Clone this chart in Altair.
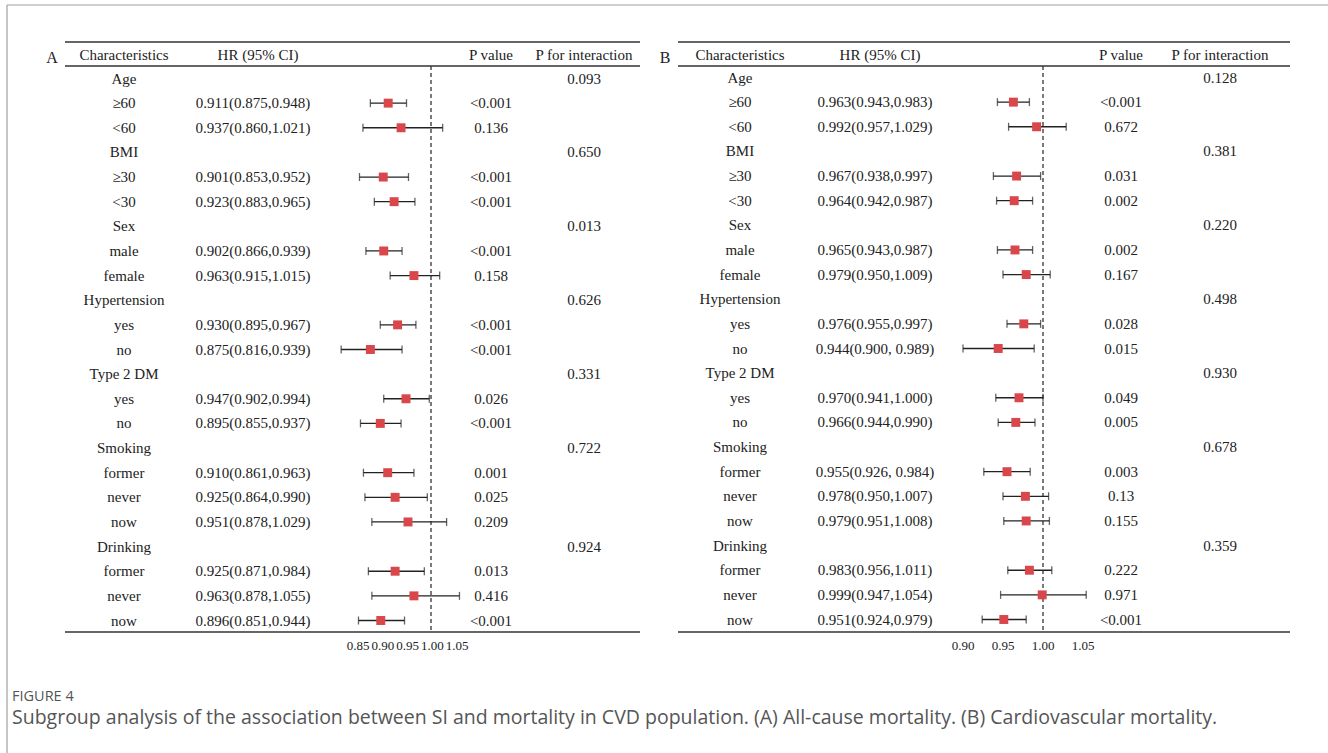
import altair as alt
import pandas as pd

# ---------------- data ----------------
labels = ["Age", "≥60", "<60", "BMI", "≥30", "<30", "Sex", "male", "female",
          "Hypertension", "yes", "no", "Type 2 DM", "yes", "no",
          "Smoking", "former", "never", "now", "Drinking", "former", "never", "now"]

# Panel A: all-cause mortality
hr_a = [None, 0.911, 0.937, None, 0.901, 0.923, None, 0.902, 0.963, None, 0.930, 0.875,
        None, 0.947, 0.895, None, 0.910, 0.925, 0.951, None, 0.925, 0.963, 0.896]
lo_a = [None, 0.875, 0.860, None, 0.853, 0.883, None, 0.866, 0.915, None, 0.895, 0.816,
        None, 0.902, 0.855, None, 0.861, 0.864, 0.878, None, 0.871, 0.878, 0.851]
hi_a = [None, 0.948, 1.021, None, 0.952, 0.965, None, 0.939, 1.015, None, 0.967, 0.939,
        None, 0.994, 0.937, None, 0.963, 0.990, 1.029, None, 0.984, 1.055, 0.944]
hrtxt_a = ["", "0.911(0.875,0.948)", "0.937(0.860,1.021)", "", "0.901(0.853,0.952)",
           "0.923(0.883,0.965)", "", "0.902(0.866,0.939)", "0.963(0.915,1.015)", "",
           "0.930(0.895,0.967)", "0.875(0.816,0.939)", "", "0.947(0.902,0.994)",
           "0.895(0.855,0.937)", "", "0.910(0.861,0.963)", "0.925(0.864,0.990)",
           "0.951(0.878,1.029)", "", "0.925(0.871,0.984)", "0.963(0.878,1.055)",
           "0.896(0.851,0.944)"]
p_a = ["", "<0.001", "0.136", "", "<0.001", "<0.001", "", "<0.001", "0.158", "",
       "<0.001", "<0.001", "", "0.026", "<0.001", "", "0.001", "0.025", "0.209", "",
       "0.013", "0.416", "<0.001"]
pint_a = ["0.093", "", "", "0.650", "", "", "0.013", "", "", "0.626", "", "", "0.331",
          "", "", "0.722", "", "", "", "0.924", "", "", ""]
ticks_a = [0.85, 0.90, 0.95, 1.00, 1.05]

# Panel B: cardiovascular mortality
hr_b = [None, 0.963, 0.992, None, 0.967, 0.964, None, 0.965, 0.979, None, 0.976, 0.944,
        None, 0.970, 0.966, None, 0.955, 0.978, 0.979, None, 0.983, 0.999, 0.951]
lo_b = [None, 0.943, 0.957, None, 0.938, 0.942, None, 0.943, 0.950, None, 0.955, 0.900,
        None, 0.941, 0.944, None, 0.926, 0.950, 0.951, None, 0.956, 0.947, 0.924]
hi_b = [None, 0.983, 1.029, None, 0.997, 0.987, None, 0.987, 1.009, None, 0.997, 0.989,
        None, 1.000, 0.990, None, 0.984, 1.007, 1.008, None, 1.011, 1.054, 0.979]
hrtxt_b = ["", "0.963(0.943,0.983)", "0.992(0.957,1.029)", "", "0.967(0.938,0.997)",
           "0.964(0.942,0.987)", "", "0.965(0.943,0.987)", "0.979(0.950,1.009)", "",
           "0.976(0.955,0.997)", "0.944(0.900, 0.989)", "", "0.970(0.941,1.000)",
           "0.966(0.944,0.990)", "", "0.955(0.926, 0.984)", "0.978(0.950,1.007)",
           "0.979(0.951,1.008)", "", "0.983(0.956,1.011)", "0.999(0.947,1.054)",
           "0.951(0.924,0.979)"]
p_b = ["", "<0.001", "0.672", "", "0.031", "0.002", "", "0.002", "0.167", "",
       "0.028", "0.015", "", "0.049", "0.005", "", "0.003", "0.13", "0.155", "",
       "0.222", "0.971", "<0.001"]
pint_b = ["0.128", "", "", "0.381", "", "", "0.220", "", "", "0.498", "", "", "0.930",
          "", "", "0.678", "", "", "", "0.359", "", "", ""]
ticks_b = [0.90, 0.95, 1.00, 1.05]

caption_head = "FIGURE 4"
caption = ("Subgroup analysis of the association between SI and mortality in CVD population. "
           "(A) All-cause mortality. (B) Cardiovascular mortality.")

# ---------------- helpers ----------------
SERIF = "Liberation Serif"
INK = "#222222"
RED = "#d9474a"
FS = 15
dummy = pd.DataFrame({"d": [0]})


def frame(hr, lo, hi, hrtxt, p, pint):
    return pd.DataFrame({"row": list(range(len(labels))), "label": labels,
                         "hr": hr, "lo": lo, "hi": hi, "hrtxt": hrtxt,
                         "p": p, "pint": pint})


def txt(text, x, y, size=FS, font=SERIF, color=INK, align="center", weight="normal"):
    return alt.Chart(dummy).mark_text(
        font=font, fontSize=size, color=color, align=align, baseline="middle",
        fontWeight=weight
    ).encode(x=alt.value(x), y=alt.value(y), text=alt.value(text))


def hline(x1, x2, y, color="#333333", width=1.4, dash=None):
    kw = dict(color=color, strokeWidth=width)
    if dash:
        kw["strokeDash"] = dash
    return alt.Chart(dummy).mark_rule(**kw).encode(
        x=alt.value(x1), x2=alt.value(x2), y=alt.value(y))


def vline(x, y1, y2, color="#333333", width=1.4, dash=None):
    kw = dict(color=color, strokeWidth=width)
    if dash:
        kw["strokeDash"] = dash
    return alt.Chart(dummy).mark_rule(**kw).encode(
        x=alt.value(x), y=alt.value(y1), y2=alt.value(y2))


def panel(df, ticks, letter, x0, x1, col_char, col_hr, col_p, col_pint,
          xdom, xrange, ref_x, yrange, tick_size):
    yscale = alt.Scale(domain=[0, len(labels) - 1], range=yrange)
    xscale = alt.Scale(domain=xdom, range=xrange)
    Y = alt.Y("row:Q", scale=yscale, axis=None)
    base = alt.Chart(df)
    data_rows = base.transform_filter("datum.hr != null")
    layers = [
        txt(letter, x0 - 13, 58, size=16),
        hline(x0, x1, 42),
        hline(x0, x1, 66),
        hline(x0, x1, 632),
        txt("Characteristics", col_char, 54.5),
        txt("HR (95% CI)", col_hr, 54.5),
        txt("P value", col_p, 54.5),
        txt("P for interaction", col_pint, 54.5),
        vline(ref_x, 66, 632, width=1.3, dash=[4, 3]),
        base.mark_text(font=SERIF, fontSize=FS, color=INK).encode(
            x=alt.value(col_char), y=Y, text="label:N"),
        base.mark_text(font=SERIF, fontSize=FS, color=INK).encode(
            x=alt.value(col_hr - 5), y=Y, text="hrtxt:N"),
        base.mark_text(font=SERIF, fontSize=FS, color=INK).encode(
            x=alt.value(col_p), y=Y, text="p:N"),
        base.mark_text(font=SERIF, fontSize=FS, color=INK).encode(
            x=alt.value(col_pint), y=Y, text="pint:N"),
        data_rows.mark_rule(color=INK, strokeWidth=1.3).encode(
            x=alt.X("lo:Q", scale=xscale, axis=None), x2="hi:Q", y=Y),
        data_rows.mark_tick(color=INK, orient="vertical", size=8, thickness=1.3).encode(
            x=alt.X("lo:Q", scale=xscale, axis=None), y=Y),
        data_rows.mark_tick(color=INK, orient="vertical", size=8, thickness=1.3).encode(
            x=alt.X("hi:Q", scale=xscale, axis=None), y=Y),
        data_rows.mark_square(color=RED, size=80, opacity=1).encode(
            x=alt.X("hr:Q", scale=xscale, axis=None), y=Y),
        alt.Chart(pd.DataFrame({"t": ticks})).mark_text(
            font=SERIF, fontSize=tick_size, color=INK, baseline="middle").encode(
            x=alt.X("t:Q", scale=xscale, axis=None), y=alt.value(646),
            text=alt.Text("t:Q", format=".2f")),
    ]
    return layers


df_a = frame(hr_a, lo_a, hi_a, hrtxt_a, p_a, pint_a)
df_b = frame(hr_b, lo_b, hi_b, hrtxt_b, p_b, pint_b)

layers = []
layers += panel(df_a, ticks_a, "A", 65, 640, 124, 258, 491, 584,
                [0.85, 1.05], [358, 457], 431, [78.5, 620.5], 13)
layers += panel(df_b, ticks_b, "B", 678, 1290, 740, 880, 1121, 1220,
                [0.90, 1.05], [963, 1083], 1043, [77.5, 619.5], 13)

# outer frame and caption
layers += [
    vline(7, 5, 753, color="#a0a0a0", width=1.2),
    hline(7, 1328, 5, color="#a0a0a0", width=1.2),
    txt(caption_head, 12, 697, size=14.5, font="Open Sans", color="#555555", align="left"),
    txt(caption, 12, 718, size=19.5, font="Open Sans", color="#555555", align="left"),
]

chart = alt.layer(*layers).resolve_scale(x="independent", y="independent").properties(
    width=1328, height=753, padding=0, autosize=alt.AutoSizeParams(type="none"),
    background="white"
).configure_view(stroke=None)

chart.save("out.html", embed_options={"renderer": "svg", "actions": False})
